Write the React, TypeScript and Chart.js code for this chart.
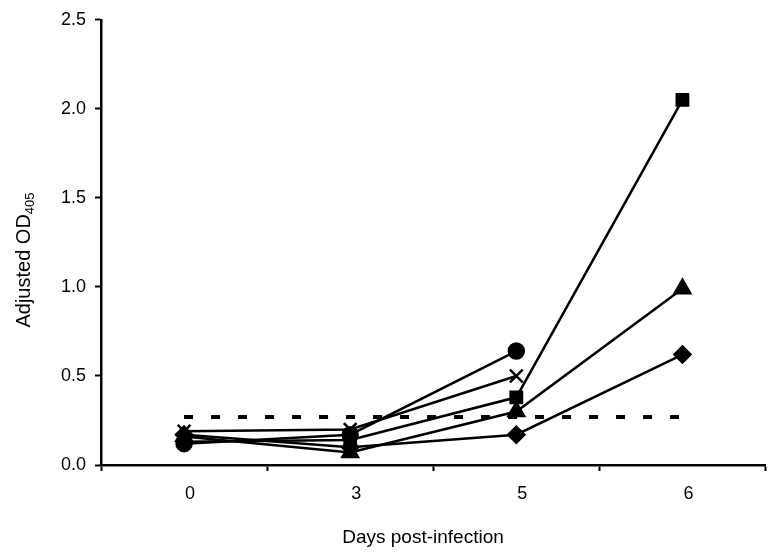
import React, { useEffect, useRef } from "react";
import { Chart, registerables } from "chart.js";

Chart.register(...registerables);

const days = ["0", "3", "5", "6"];
const yTicks = [0, 0.5, 1.0, 1.5, 2.0, 2.5];
const crossSeries = [0.19, 0.2, 0.5, null];
const circleSeries = [0.12, 0.17, 0.64, null];
const squareSeries = [0.13, 0.14, 0.38, 2.05];
const triangleSeries = [0.16, 0.07, 0.3, 0.99];
const diamondSeries = [0.17, 0.1, 0.17, 0.62];
const cutoff = [0.27, 0.27, 0.27, 0.27];
const xTitle = "Days post-infection";
const yTitleMain = "Adjusted OD";
const yTitleSub = "405";

const FONT = "'Liberation Sans', Arial, sans-serif";

const titlesPlugin = {
  id: "titles",
  afterDraw(chart: any) {
    const ctx = chart.ctx;
    ctx.save();
    ctx.fillStyle = "#000";
    // x title
    ctx.font = `19px ${FONT}`;
    ctx.textAlign = "center";
    ctx.textBaseline = "middle";
    ctx.fillText(xTitle, 423, 538);
    // y title with subscript
    ctx.textAlign = "left";
    ctx.textBaseline = "alphabetic";
    ctx.font = `20px ${FONT}`;
    const w1 = ctx.measureText(yTitleMain).width;
    ctx.font = `13px ${FONT}`;
    const w2 = ctx.measureText(yTitleSub).width;
    const total = w1 + w2;
    ctx.translate(30, 260);
    ctx.rotate(-Math.PI / 2);
    ctx.font = `20px ${FONT}`;
    ctx.fillText(yTitleMain, -total / 2, 0);
    ctx.font = `13px ${FONT}`;
    ctx.fillText(yTitleSub, -total / 2 + w1, 4);
    ctx.restore();
  },
};

export default function App() {
  const ref = useRef<HTMLCanvasElement>(null);
  useEffect(() => {
    const lineCommon = {
      borderColor: "#000",
      backgroundColor: "#000",
      pointBackgroundColor: "#000",
      pointBorderColor: "#000",
      borderWidth: 2.5,
      spanGaps: false,
    };
    const chart = new Chart(ref.current!, {
      type: "line",
      data: {
        labels: days,
        datasets: [
          {
            ...lineCommon,
            data: cutoff,
            borderWidth: 4,
            borderDash: [9, 18],
            pointRadius: 0,
          },
          { ...lineCommon, data: diamondSeries, pointStyle: "rectRot", pointRadius: 8 },
          { ...lineCommon, data: triangleSeries, pointStyle: "triangle", pointRadius: 9 },
          { ...lineCommon, data: squareSeries, pointStyle: "rect", pointRadius: 8 },
          { ...lineCommon, data: circleSeries, pointStyle: "circle", pointRadius: 7.5 },
          {
            ...lineCommon,
            data: crossSeries,
            pointStyle: "crossRot",
            pointRadius: 9,
            pointBorderWidth: 2.5,
          },
        ] as any,
      },
      options: {
        animation: false,
        responsive: false,
        maintainAspectRatio: false,
        layout: { padding: { top: 13, right: 7, left: 0, bottom: 0 } },
        plugins: { legend: { display: false }, tooltip: { enabled: false } },
        elements: { line: { tension: 0 } },
        scales: {
          x: {
            type: "category",
            offset: true,
            grid: {
              offset: true,
              drawOnChartArea: false,
              drawTicks: true,
              tickLength: 6,
              tickWidth: 2,
              color: "#000",
            },
            border: { display: true, color: "#000", width: 2.5 },
            ticks: {
              color: "#000",
              font: { family: FONT, size: 18 },
              padding: 12,
              labelOffset: 6,
            },
            afterFit(scale: any) {
              scale.height = 91;
            },
          },
          y: {
            min: 0,
            max: 2.5,
            afterBuildTicks(scale: any) {
              scale.ticks = yTicks.map((v) => ({ value: v }));
            },
            grid: {
              drawOnChartArea: false,
              drawTicks: true,
              tickLength: 6,
              tickWidth: 2,
              color: "#000",
            },
            border: { display: true, color: "#000", width: 2.5 },
            ticks: {
              color: "#000",
              font: { family: FONT, size: 18 },
              padding: 9,
              callback: (v: any) => Number(v).toFixed(1),
            },
            afterFit(scale: any) {
              scale.width = 101;
            },
          },
        },
      },
      plugins: [titlesPlugin],
    } as any);
    return () => chart.destroy();
  }, []);
  return (
    <div style={{ position: "absolute", left: 0, top: 0, width: 777, height: 556, background: "#fff" }}>
      <canvas ref={ref} width={777} height={556} style={{ width: 777, height: 556 }} />
    </div>
  );
}
